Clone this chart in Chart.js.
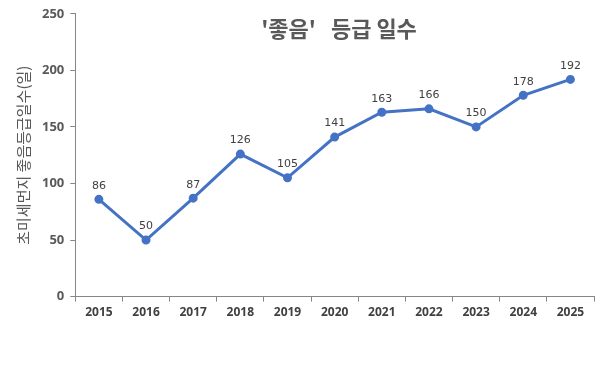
<html>
<head>
<meta charset="utf-8">
<script src="https://cdn.jsdelivr.net/npm/chart.js@4/dist/chart.umd.min.js"></script>
<style>
  body { margin: 0; background: #fff; }
  #wrap { width: 607px; height: 372px; position: relative; }
</style>
</head>
<body>
<div id="wrap"><canvas id="myChart" width="607" height="372"></canvas></div>
<script>
// data
var years = ["2015", "2016", "2017", "2018", "2019", "2020", "2021", "2022", "2023", "2024", "2025"];
var goodDays = [86, 50, 87, 126, 105, 141, 163, 166, 150, 178, 192];
var chartTitle = "'좋음'   등급 일수";
var yTitle = "초미세먼지 좋음등급일수(일)";

var fontFam = "'Noto Sans CJK KR', 'Noto Sans', sans-serif";

// value labels above points + title drawn over the plot
var labelsPlugin = {
    id: 'labels',
    afterDatasetsDraw: function(chart) {
        var ctx = chart.ctx;
        var meta = chart.getDatasetMeta(0);
        ctx.save();
        ctx.fillStyle = '#404040';
        ctx.font = "11px 'DejaVu Sans', sans-serif";
        ctx.textAlign = 'center';
        ctx.textBaseline = 'bottom';
        meta.data.forEach(function(pt, i) {
            ctx.fillText(goodDays[i], pt.x, pt.y - 8);
        });
        ctx.fillStyle = '#595959';
        ctx.font = "bold 22px " + fontFam;
        ctx.textBaseline = 'middle';
        ctx.fillText(chartTitle, 339, 29);
        ctx.restore();
    }
};

var ctx = document.getElementById('myChart').getContext('2d');
var chart = new Chart(ctx, {
    type: 'line',
    data: {
        labels: years,
        datasets: [{
            data: goodDays,
            borderColor: '#4472C4',
            backgroundColor: '#4472C4',
            borderWidth: 3,
            pointRadius: 3,
            pointHoverRadius: 3,
            tension: 0
        }]
    },
    options: {
        responsive: false,
        animation: false,
        layout: { padding: { top: 8, right: 13, left: 10, bottom: 48 } },
        plugins: {
            legend: { display: false },
            tooltip: { enabled: false }
        },
        scales: {
            x: {
                offset: true,
                grid: { offset: true, drawOnChartArea: false, color: '#868686', tickLength: 5 },
                border: { color: '#868686', width: 1 },
                ticks: { color: '#404040', font: { family: "'Open Sans', sans-serif", size: 12, weight: 'bold' }, padding: 4 }
            },
            y: {
                min: 0, max: 250,
                ticks: { stepSize: 50, color: '#595959', font: { family: "'Open Sans', sans-serif", size: 13, weight: 'bold' }, padding: 6 },
                grid: { drawOnChartArea: false, color: '#868686', tickLength: 5 },
                border: { color: '#868686', width: 1 },
                title: { display: true, text: yTitle, color: '#595959', font: { family: fontFam, size: 15 }, padding: { bottom: 4 } }
            }
        }
    },
    plugins: [labelsPlugin]
});
</script>
</body>
</html>
